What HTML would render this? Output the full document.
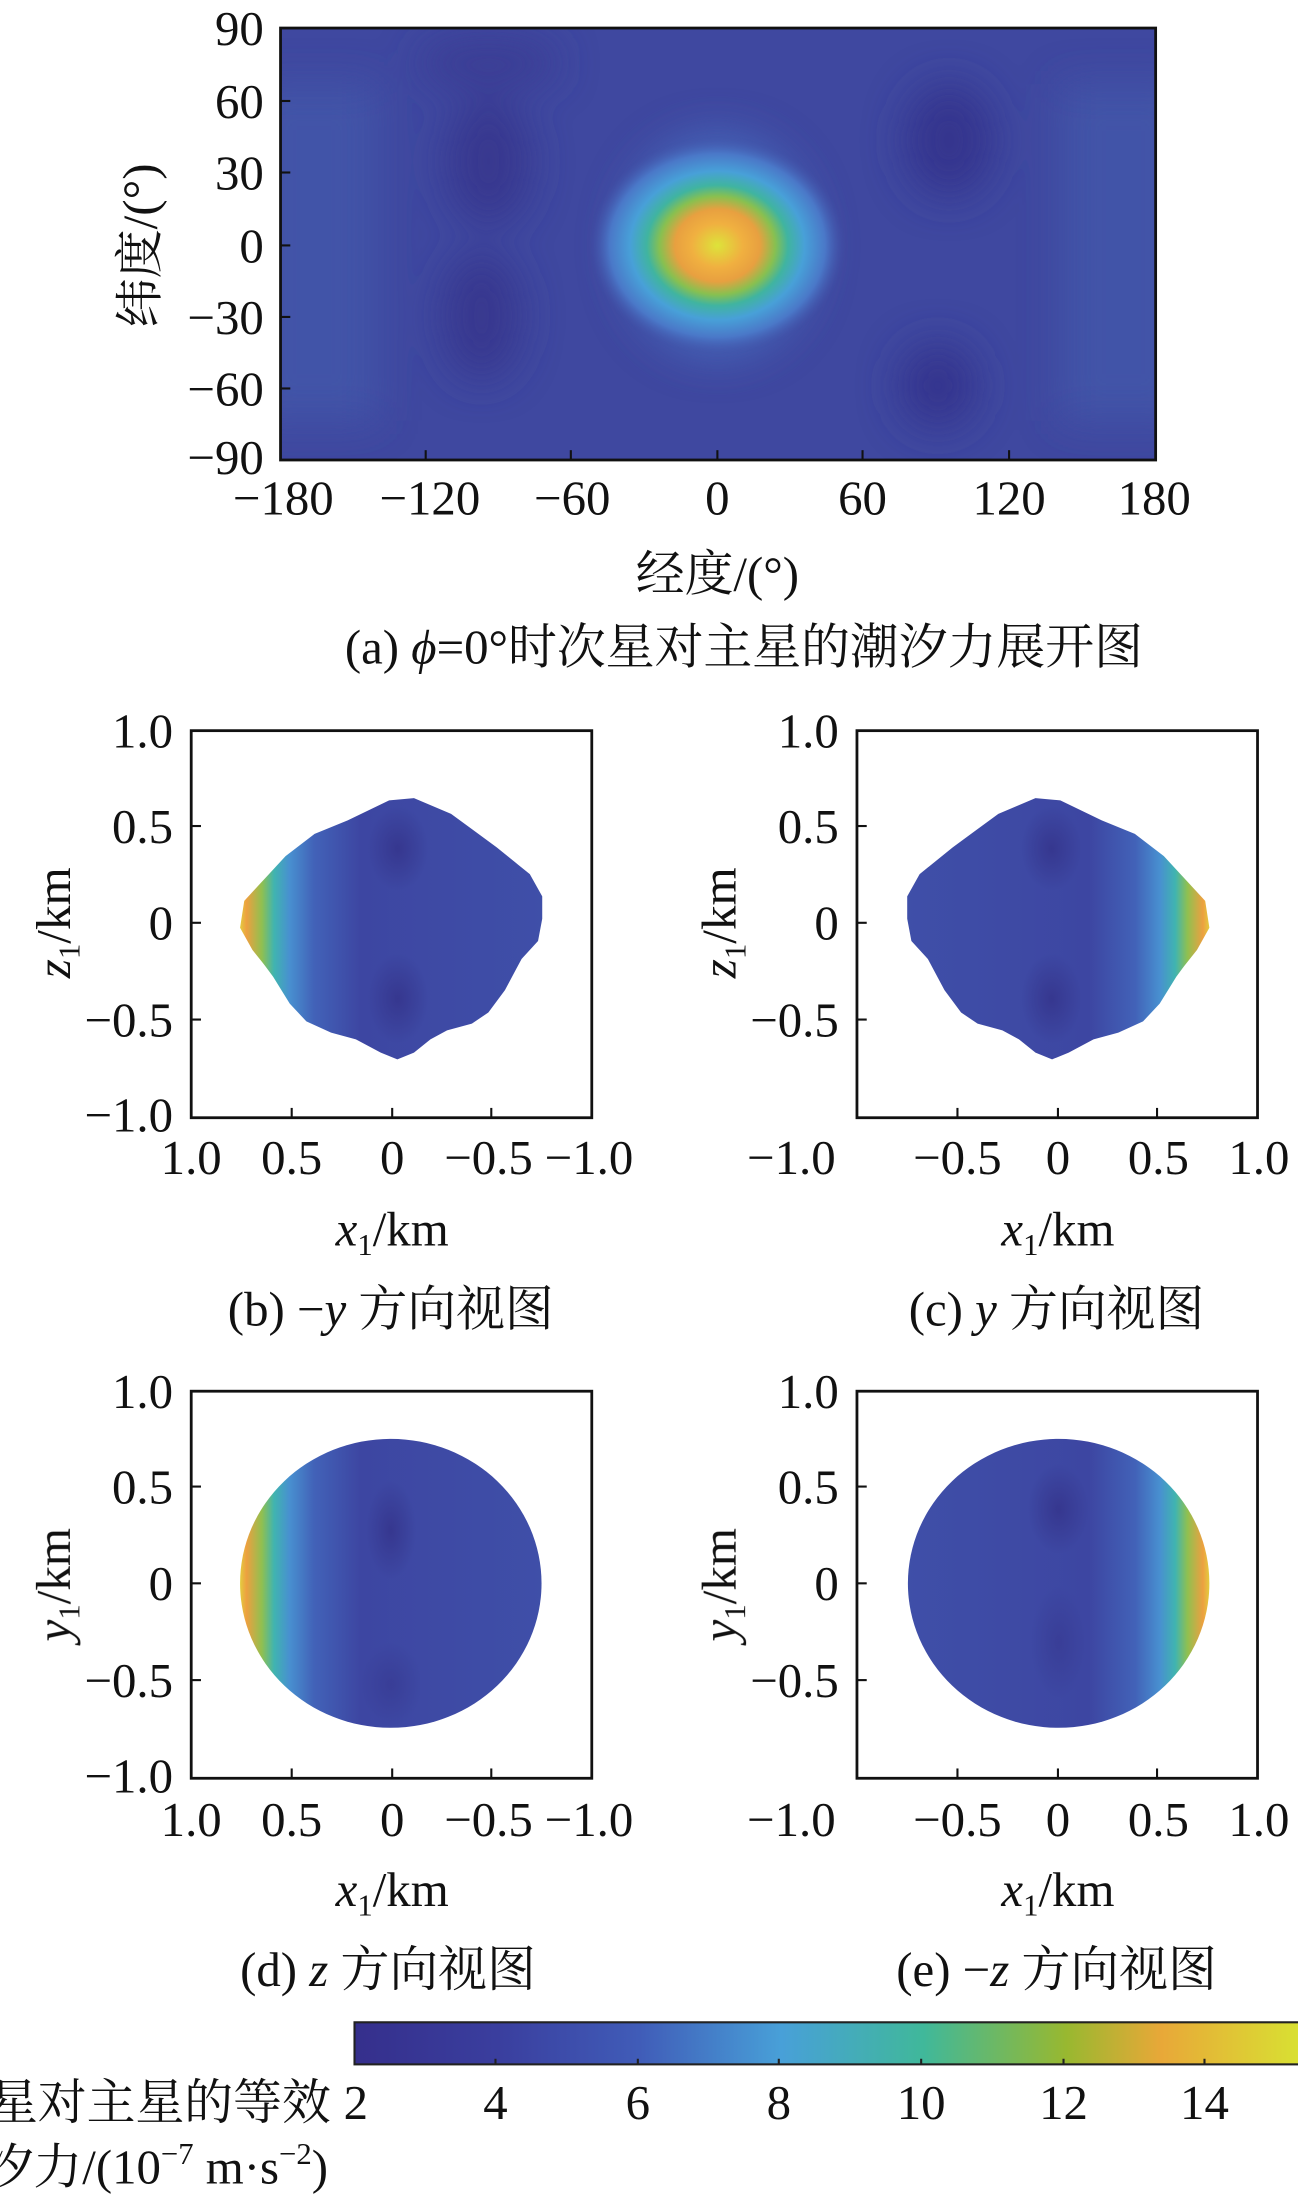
<!DOCTYPE html>
<html><head><meta charset="utf-8"><style>
html,body{margin:0;padding:0;background:#fff;}
svg{display:block;}
text{font-family:"Liberation Serif","Noto Serif CJK SC",serif;fill:#111;}
</style></head><body>
<svg width="1298" height="2199" viewBox="0 0 930 1568" preserveAspectRatio="none" xmlns="http://www.w3.org/2000/svg">
<defs>
<filter id="blur" x="-50%" y="-50%" width="200%" height="200%"><feGaussianBlur stdDeviation="14"/></filter>
<filter id="blur2" x="-50%" y="-50%" width="200%" height="200%"><feGaussianBlur stdDeviation="6"/></filter>
<radialGradient id="hot" cx="0.5" cy="0.5" r="0.5">
<stop offset="0" stop-color="#dde33a"/>
<stop offset="0.2" stop-color="#f0b040"/>
<stop offset="0.33" stop-color="#e8a040"/>
<stop offset="0.45" stop-color="#88c050"/>
<stop offset="0.55" stop-color="#40b4a0"/>
<stop offset="0.68" stop-color="#48a0d8"/>
<stop offset="0.84" stop-color="#4a78c8"/>
<stop offset="1" stop-color="#4352a8" stop-opacity="0"/>
</radialGradient>
<radialGradient id="dark" cx="0.5" cy="0.5" r="0.5">
<stop offset="0" stop-color="#36378f"/>
<stop offset="1" stop-color="#36378f" stop-opacity="0"/>
</radialGradient>
<linearGradient id="gb" x1="170" y1="0" x2="390" y2="0" gradientUnits="userSpaceOnUse">
<stop offset="0" stop-color="#dfe040"/>
<stop offset="0.03" stop-color="#eda040"/>
<stop offset="0.08" stop-color="#90c050"/>
<stop offset="0.12" stop-color="#40b4b0"/>
<stop offset="0.17" stop-color="#4890d0"/>
<stop offset="0.25" stop-color="#4262b8"/>
<stop offset="0.4" stop-color="#3d46a2"/>
<stop offset="1" stop-color="#3f4fa8"/>
</linearGradient>
<linearGradient id="cbar" x1="0" y1="0" x2="1" y2="0">
<stop offset="0" stop-color="#352f8c"/>
<stop offset="0.15" stop-color="#3a3e9e"/>
<stop offset="0.3" stop-color="#405cb8"/>
<stop offset="0.45" stop-color="#48a0d8"/>
<stop offset="0.6" stop-color="#40b89a"/>
<stop offset="0.75" stop-color="#98b830"/>
<stop offset="0.85" stop-color="#e8a838"/>
<stop offset="1" stop-color="#d8e232"/>
</linearGradient>
<clipPath id="ctop"><rect x="201" y="20" width="627" height="308"/></clipPath>
</defs>

<!-- (a) -->
<g clip-path="url(#ctop)">
<rect x="201" y="20" width="627" height="308" fill="#3f48a0"/>
<g filter="url(#blur)">
<rect x="180" y="60" width="90" height="240" fill="#4559ab" opacity="0.7"/>
<rect x="760" y="60" width="90" height="240" fill="#4559ab" opacity="0.7"/>
<ellipse cx="350" cy="115" rx="30" ry="45" fill="#37388f"/>
<ellipse cx="345" cy="225" rx="28" ry="45" fill="#37388f"/>
<ellipse cx="680" cy="100" rx="32" ry="40" fill="#36368e"/>
<ellipse cx="672" cy="275" rx="28" ry="30" fill="#36368e"/>
<ellipse cx="350" cy="45" rx="50" ry="18" fill="#3a3d94"/>
<ellipse cx="514" cy="175" rx="70" ry="80" fill="#4565b8"/>
</g>
<ellipse cx="514" cy="175" rx="92" ry="78" fill="url(#hot)"/>
</g>
<rect x="201" y="20" width="627" height="308" fill="none" stroke="#111" stroke-width="2"/>
<g stroke="#111" stroke-width="1.5">
<line x1="305" y1="328" x2="305" y2="321"/><line x1="409" y1="328" x2="409" y2="321"/><line x1="514" y1="328" x2="514" y2="321"/><line x1="618" y1="328" x2="618" y2="321"/><line x1="723" y1="328" x2="723" y2="321"/>
<line x1="201" y1="72" x2="208" y2="72"/><line x1="201" y1="123" x2="208" y2="123"/><line x1="201" y1="175" x2="208" y2="175"/><line x1="201" y1="226" x2="208" y2="226"/><line x1="201" y1="277" x2="208" y2="277"/>
</g>
<g font-size="35" text-anchor="end">
<text x="189" y="32">90</text><text x="189" y="84">60</text><text x="189" y="135">30</text><text x="189" y="187">0</text><text x="189" y="238">−30</text><text x="189" y="289">−60</text><text x="189" y="338">−90</text>
</g>
<g font-size="35" text-anchor="middle">
<text x="203" y="367">−180</text><text x="308" y="367">−120</text><text x="410" y="367">−60</text><text x="514" y="367">0</text><text x="618" y="367">60</text><text x="723" y="367">120</text><text x="827" y="367">180</text>
<text x="514" y="421">经度/(°)</text>
<text x="533" y="473"><tspan>(a) </tspan><tspan font-style="italic">ϕ</tspan><tspan>=0°时次星对主星的潮汐力展开图</tspan></text>
</g>
<text font-size="35" text-anchor="middle" transform="translate(112 175) rotate(-90)">纬度/(°)</text>

<defs>
<g id="shapeB">
<polygon fill="url(#gb)" points="278.8,570.7 296.6,569.1 323.2,580.3 355.9,604.2 379.6,623.3 388.5,639.2 388.5,655.1 385.5,671 373.7,683.8 361.8,706 349.9,722 338.1,729.9 320.3,734.7 308.4,741.1 296.6,750.6 284.7,755.4 272.8,750.6 255,741.1 237.2,736.3 219.5,728.3 207.6,715.6 195.7,696.5 189.8,688.5 180.9,677.4 172,661.5 175,642.4 189.8,626.4 204.6,610.5 225.4,594.6 249.1,585 278.8,570.7"/>
<ellipse cx="285" cy="605" rx="22" ry="30" fill="url(#dark)"/>
<ellipse cx="285" cy="712" rx="22" ry="32" fill="url(#dark)"/>
</g>
<g id="shapeD">
<ellipse cx="280" cy="1128" rx="108" ry="103" fill="url(#gb)" transform="translate(0 -470)"/>
</g>
<g id="axes">
<rect x="137" y="521" width="287" height="276" fill="none" stroke="#111" stroke-width="2"/>
<g stroke="#111" stroke-width="1.5">
<line x1="209" y1="797" x2="209" y2="790"/><line x1="281" y1="797" x2="281" y2="790"/><line x1="352" y1="797" x2="352" y2="790"/>
<line x1="137" y1="589" x2="144" y2="589"/><line x1="137" y1="658" x2="144" y2="658"/><line x1="137" y1="727" x2="144" y2="727"/>
</g>
</g>
</defs>

<!-- (b) -->
<use href="#shapeB"/>
<use href="#axes"/>
<g font-size="35" text-anchor="end">
<text x="124" y="533">1.0</text><text x="124" y="601">0.5</text><text x="124" y="670">0</text><text x="124" y="739">−0.5</text><text x="124" y="807">−1.0</text>
</g>
<g font-size="35" text-anchor="middle">
<text x="137" y="837">1.0</text><text x="209" y="837">0.5</text><text x="281" y="837">0</text><text x="350" y="837">−0.5</text><text x="422" y="837">−1.0</text>
<text x="281" y="888"><tspan font-style="italic">x</tspan><tspan font-size="22" dy="7">1</tspan><tspan dy="-7">/km</tspan></text>
<text x="280" y="945">(b) −<tspan font-style="italic">y</tspan> 方向视图</text>
</g>
<text font-size="35" transform="translate(50 658) rotate(-90)" text-anchor="middle"><tspan font-style="italic">z</tspan><tspan font-size="22" dy="7">1</tspan><tspan dy="-7">/km</tspan></text>

<!-- (c) -->
<g transform="translate(1038.5 0) scale(-1 1)"><use href="#shapeB"/></g>
<use href="#axes" transform="translate(477 0)"/>
<g font-size="35" text-anchor="end">
<text x="601" y="533">1.0</text><text x="601" y="601">0.5</text><text x="601" y="670">0</text><text x="601" y="739">−0.5</text>
</g>
<g font-size="35" text-anchor="middle">
<text x="567" y="837">−1.0</text><text x="686" y="837">−0.5</text><text x="758" y="837">0</text><text x="830" y="837">0.5</text><text x="902" y="837">1.0</text>
<text x="758" y="888"><tspan font-style="italic">x</tspan><tspan font-size="22" dy="7">1</tspan><tspan dy="-7">/km</tspan></text>
<text x="757" y="945">(c) <tspan font-style="italic">y</tspan> 方向视图</text>
</g>
<text font-size="35" transform="translate(527 658) rotate(-90)" text-anchor="middle"><tspan font-style="italic">z</tspan><tspan font-size="22" dy="7">1</tspan><tspan dy="-7">/km</tspan></text>

<!-- (d) -->
<g transform="translate(0 471)">
<use href="#shapeD"/>
<ellipse cx="280" cy="620" rx="18" ry="35" fill="url(#dark)"/>
<ellipse cx="280" cy="730" rx="22" ry="30" fill="url(#dark)" opacity="0.6"/>
<use href="#axes"/>
</g>
<g font-size="35" text-anchor="end">
<text x="124" y="1004">1.0</text><text x="124" y="1072">0.5</text><text x="124" y="1141">0</text><text x="124" y="1210">−0.5</text><text x="124" y="1278">−1.0</text>
</g>
<g font-size="35" text-anchor="middle">
<text x="137" y="1309">1.0</text><text x="209" y="1309">0.5</text><text x="281" y="1309">0</text><text x="350" y="1309">−0.5</text><text x="422" y="1309">−1.0</text>
<text x="281" y="1359"><tspan font-style="italic">x</tspan><tspan font-size="22" dy="7">1</tspan><tspan dy="-7">/km</tspan></text>
<text x="278" y="1416">(d) <tspan font-style="italic">z</tspan> 方向视图</text>
</g>
<text font-size="35" transform="translate(50 1130) rotate(-90)" text-anchor="middle"><tspan font-style="italic">y</tspan><tspan font-size="22" dy="7">1</tspan><tspan dy="-7">/km</tspan></text>

<!-- (e) -->
<g transform="translate(1038.5 471) scale(-1 1)">
<use href="#shapeD"/>
<ellipse cx="280" cy="605" rx="22" ry="32" fill="url(#dark)"/>
<ellipse cx="280" cy="700" rx="20" ry="40" fill="url(#dark)" opacity="0.6"/>
</g>
<use href="#axes" transform="translate(477 471)"/>
<g font-size="35" text-anchor="end">
<text x="601" y="1004">1.0</text><text x="601" y="1072">0.5</text><text x="601" y="1141">0</text><text x="601" y="1210">−0.5</text>
</g>
<g font-size="35" text-anchor="middle">
<text x="567" y="1309">−1.0</text><text x="686" y="1309">−0.5</text><text x="758" y="1309">0</text><text x="830" y="1309">0.5</text><text x="902" y="1309">1.0</text>
<text x="758" y="1359"><tspan font-style="italic">x</tspan><tspan font-size="22" dy="7">1</tspan><tspan dy="-7">/km</tspan></text>
<text x="757" y="1416">(e) −<tspan font-style="italic">z</tspan> 方向视图</text>
</g>
<text font-size="35" transform="translate(527 1130) rotate(-90)" text-anchor="middle"><tspan font-style="italic">y</tspan><tspan font-size="22" dy="7">1</tspan><tspan dy="-7">/km</tspan></text>

<!-- colorbar -->
<rect x="254" y="1442" width="680" height="30" fill="url(#cbar)" stroke="#222" stroke-width="1.5"/>
<g stroke="#222" stroke-width="1.5">
<line x1="355" y1="1472" x2="355" y2="1468"/><line x1="457" y1="1472" x2="457" y2="1468"/><line x1="558" y1="1472" x2="558" y2="1468"/><line x1="660" y1="1472" x2="660" y2="1468"/><line x1="762" y1="1472" x2="762" y2="1468"/><line x1="863" y1="1472" x2="863" y2="1468"/>
</g>
<g font-size="35" text-anchor="middle">
<text x="255" y="1511">2</text><text x="355" y="1511">4</text><text x="457" y="1511">6</text><text x="558" y="1511">8</text><text x="660" y="1511">10</text><text x="762" y="1511">12</text><text x="863" y="1511">14</text>
</g>
<g font-size="35" text-anchor="end">
<text x="237" y="1511">次星对主星的等效</text>
<text x="235" y="1557">潮汐力/(10<tspan font-size="22" dy="-14">−7</tspan><tspan dy="14"> m·s</tspan><tspan font-size="22" dy="-14">−2</tspan><tspan dy="14">)</tspan></text>
</g>
</svg>
</body></html>
